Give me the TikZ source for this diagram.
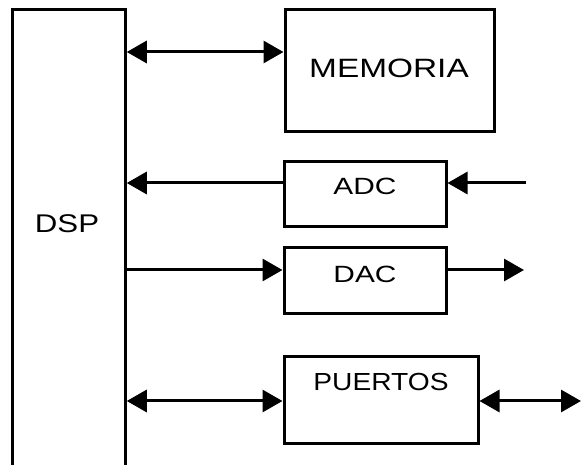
\documentclass[tikz,border=0pt]{standalone}
\usepackage{fontspec}
\setmainfont{Liberation Sans}
\usetikzlibrary{arrows.meta}
\begin{document}
\begin{tikzpicture}[x=1pt,y=-1pt,
  box/.style={draw, line width=3pt, inner sep=0pt},
  lbl/.style={anchor=base, inner sep=0pt},
  link/.style={line width=3pt},
  tip/.tip={Triangle[length=20pt,width=22pt]},
]
\useasboundingbox (0,0) rectangle (582,465);

% blocks
\node[box, minimum width=112.5pt, minimum height=457pt] (dsp) at (69,238.5) {};
\node[box, minimum width=209pt, minimum height=122pt] (mem) at (389.5,71) {};
\node[box, minimum width=162pt, minimum height=65pt] (adc) at (365,194.5) {};
\node[box, minimum width=162pt, minimum height=66pt] (dac) at (365,281) {};
\node[box, minimum width=194pt, minimum height=87pt] (pue) at (381,400.5) {};

% block labels
\node[lbl, font=\fontsize{25.6}{30}\selectfont] (dsptxt) at (67,233) {\scalebox{1.22}[1]{DSP}};
\node[lbl, font=\fontsize{26.5}{30}\selectfont] (memtxt) at (389,77.5) {\scalebox{1.26}[1]{MEMORIA}};
\node[lbl, font=\fontsize{23.5}{28}\selectfont] (adctxt) at (365,195) {\scalebox{1.27}[1]{ADC}};
\node[lbl, font=\fontsize{23.5}{28}\selectfont] (dactxt) at (365,282.7) {\scalebox{1.27}[1]{DAC}};
\node[lbl, font=\fontsize{24.7}{29}\selectfont] (puetxt) at (381,391) {\scalebox{1.14}[1]{PUERTOS}};

% connection levels
\coordinate (ymem) at (0,52);
\coordinate (yadc) at (0,183);
\coordinate (ydac) at (0,270);
\coordinate (ypue) at (0,401);
\coordinate (adcin) at (526,183);
\coordinate (dacout) at (524,270);
\coordinate (pueio) at (581,401);

% connectors
\draw[link, tip-tip] (dsp.east |- ymem) -- (mem.west |- ymem);
\draw[link, -tip] (adc.west |- yadc) -- (dsp.east |- yadc);
\draw[link, -tip] (adcin) -- (adc.east |- yadc);
\draw[link, -tip] (dsp.east |- ydac) -- (dac.west |- ydac);
\draw[link, -tip] (dac.east |- ydac) -- (dacout);
\draw[link, tip-tip] (dsp.east |- ypue) -- (pue.west |- ypue);
\draw[link, tip-tip] (pue.east |- ypue) -- (pueio);
\end{tikzpicture}
\end{document}
